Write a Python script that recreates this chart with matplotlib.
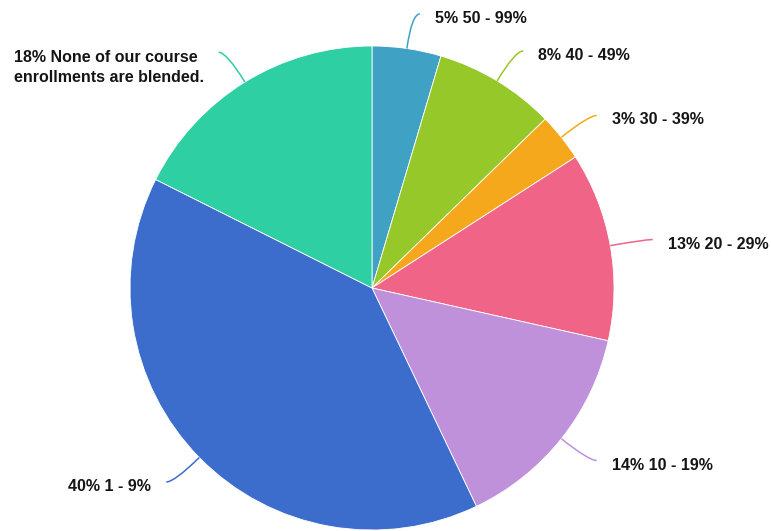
import numpy as np
import matplotlib.pyplot as plt
from matplotlib.path import Path
from matplotlib.patches import PathPatch

# share of respondents, clockwise from 12 o'clock
shares = [4.6, 8.1, 3.2, 12.6, 14.4, 39.5, 17.6]
labels = ['5% 50 - 99%', '8% 40 - 49%', '3% 30 - 39%', '13% 20 - 29%',
          '14% 10 - 19%', '40% 1 - 9%',
          '18% None of our course\nenrollments are blended.']
colors = ['#3fa2c4', '#97c82a', '#f5a81b', '#f06487',
          '#bf91db', '#3d6dcc', '#2dcfa3']

W, H = 771, 531
cx, cy, R = 372, H - 288, 242

fig = plt.figure(figsize=(W / 100, H / 100), dpi=100)
ax = fig.add_axes([0, 0, 1, 1])

wedges, _ = ax.pie(shares, colors=colors, startangle=90, counterclock=False,
                   center=(cx, cy), radius=R, frame=True,
                   wedgeprops=dict(edgecolor='white', linewidth=0.6))
ax.set_xlim(0, W)
ax.set_ylim(0, H)
ax.set_aspect('equal')
ax.axis('off')

for w, lab, col in zip(wedges, labels, colors):
    mid = np.deg2rad((w.theta1 + w.theta2) / 2)
    c, s = np.cos(mid), np.sin(mid)
    p0 = (cx + R * c, cy + R * s)
    elbow = (cx + 277 * c, cy + 277 * s)
    side = 1 if c >= 0 else -1
    p2 = (elbow[0] + 8 * side, elbow[1])
    path = Path([p0, elbow, p2], [Path.MOVETO, Path.CURVE3, Path.CURVE3])
    ax.add_patch(PathPatch(path, fill=False, edgecolor=col, lw=1.1))
    dy = 11 if '\n' in lab else 3
    ax.text(p2[0] + 15 * side, p2[1] - dy, lab,
            ha='left' if side > 0 else 'right', va='center_baseline',
            multialignment='left', fontsize=11.5, fontweight='bold',
            family='Liberation Sans', color='#151515', linespacing=1.4)

fig.savefig('out.png', dpi=100)
